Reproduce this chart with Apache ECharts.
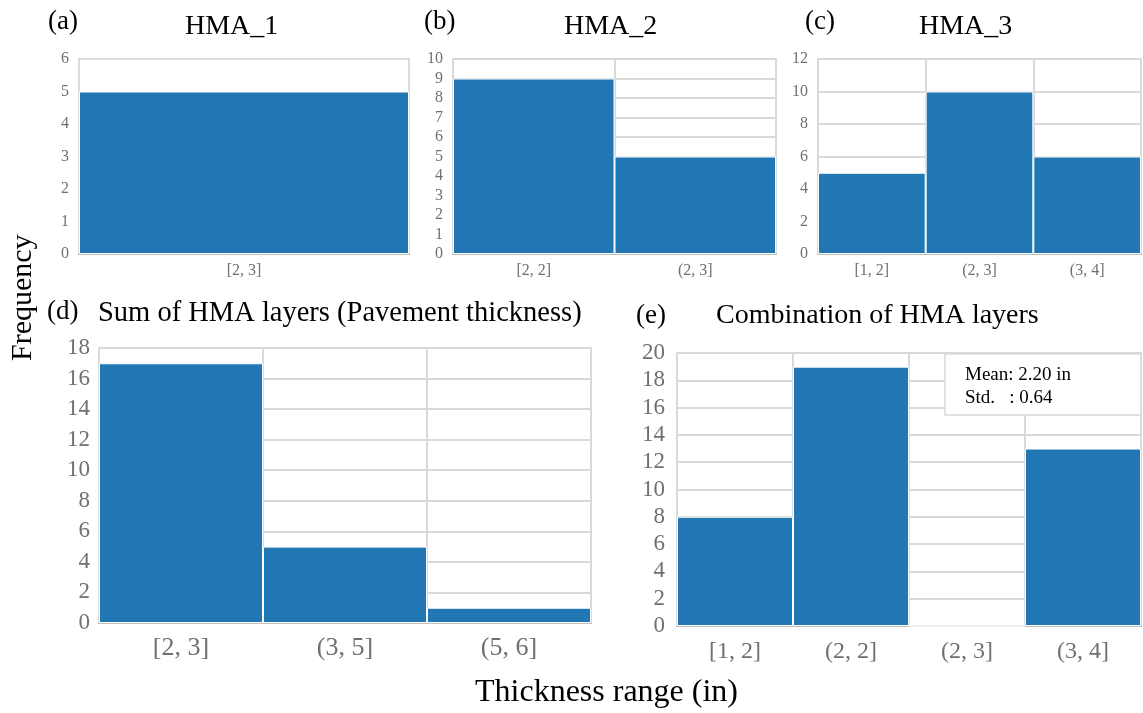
<!DOCTYPE html>
<html>
<head>
<meta charset="utf-8">
<script src="https://cdn.jsdelivr.net/npm/echarts@6/dist/echarts.min.js"></script>
<style>
  html, body { margin: 0; padding: 0; background: #fff; }
  #chart { width: 1143px; height: 713px; }
</style>
</head>
<body>
<div id="chart"></div>
<script>
// values
const catsA = ['[2, 3]']
const valsA = [5]
const catsB = ['[2, 2]', '(2, 3]']
const valsB = [9, 5]
const catsC = ['[1, 2]', '(2, 3]', '(3, 4]']
const valsC = [5, 10, 6]
const catsD = ['[2, 3]', '(3, 5]', '(5, 6]']
const valsD = [17, 5, 1]
const catsE = ['[1, 2]', '(2, 2]', '(2, 3]', '(3, 4]']
const valsE = [8, 19, 0, 13]

const yMax = [6, 10, 12, 18, 20]
const yStep = [1, 1, 2, 2, 2]

const serif = 'Liberation Serif'
const barColor = '#2077b4'
const gridColor = '#d9d9d9'

const grids = [
  { left: 79, top: 59, width: 330, height: 195 },
  { left: 453, top: 59, width: 323, height: 195 },
  { left: 818, top: 59, width: 323, height: 195 },
  { left: 99, top: 348, width: 492, height: 275 },
  { left: 677, top: 353, width: 464, height: 273 }
]

const cats = [catsA, catsB, catsC, catsD, catsE]
const vals = [valsA, valsB, valsC, valsD, valsE]
const xFont = [16, 16, 16, 26, 24]
const yFont = [16, 16, 16, 23, 23]
const xMargin = [9, 9, 9, 12, 14]
const yMargin = [10, 10, 10, 9, 12]

const chart = echarts.init(document.getElementById('chart'))

function head(text, left, top, size) {
  return {
    text, left, top, padding: 0,
    textStyle: { fontFamily: serif, fontSize: size, fontWeight: 'normal', color: '#000' }
  }
}

chart.setOption({
  animation: false,
  textStyle: { fontFamily: serif },
  grid: grids.map(g => Object.assign({
    show: true,
    borderColor: '#cfcfcf',
    borderWidth: 1.5,
    backgroundColor: '#fff',
    containLabel: false
  }, g)),
  xAxis: cats.map((c, i) => ({
    type: 'category',
    gridIndex: i,
    data: c,
    axisLine: { lineStyle: { color: '#bfbfbf', width: 2 } },
    axisTick: { show: i === 3, length: 4, lineStyle: { color: '#d0d0d0' }, inside: true },
    axisLabel: { color: '#707070', fontFamily: serif, fontSize: xFont[i], margin: xMargin[i] },
    splitLine: { show: i > 0, lineStyle: { color: gridColor, width: 2 } }
  })),
  yAxis: vals.map((v, i) => ({
    type: 'value',
    gridIndex: i,
    min: 0,
    max: yMax[i],
    interval: yStep[i],
    axisLine: { show: false },
    axisTick: { show: false },
    axisLabel: { color: '#707070', fontFamily: serif, fontSize: yFont[i], margin: yMargin[i] },
    splitLine: { show: i > 0, lineStyle: { color: gridColor, width: 2 } }
  })),
  series: vals.map((v, i) => ({
    type: 'bar',
    xAxisIndex: i,
    yAxisIndex: i,
    data: v,
    barCategoryGap: '0%',
    z: 3,
    itemStyle: { color: barColor, borderColor: '#fff', borderWidth: 1 }
  })),
  title: [
    head('(a)', 48, 8, 27),
    head('HMA_1', 185, 13, 28),
    head('(b)', 424, 8, 27),
    head('HMA_2', 564, 13, 28),
    head('(c)', 805, 8, 27),
    head('HMA_3', 919, 13, 28),
    head('(d)', 47, 298, 27),
    head('Sum of HMA layers (Pavement thickness)', 98, 299, 28.5),
    head('(e)', 636, 302, 27),
    head('Combination of HMA layers', 716, 302, 28),
    head('Thickness range (in)', 475, 677, 32)
  ],
  graphic: [
    {
      type: 'text',
      x: 8,
      y: 361,
      rotation: Math.PI / 2,
      style: { text: 'Frequency', font: '30px "Liberation Serif"', fill: '#000' }
    },
    {
      type: 'rect',
      shape: { x: 945, y: 354, width: 196, height: 61 },
      style: { fill: '#fff', stroke: '#d9d9d9', lineWidth: 1.5 },
      z: 10
    },
    {
      type: 'text',
      x: 965,
      y: 364,
      z: 11,
      style: { text: 'Mean: 2.20 in\nStd.   : 0.64', font: '19px "Liberation Serif"', fill: '#000', lineHeight: 23 }
    }
  ]
})
</script>
</body>
</html>
